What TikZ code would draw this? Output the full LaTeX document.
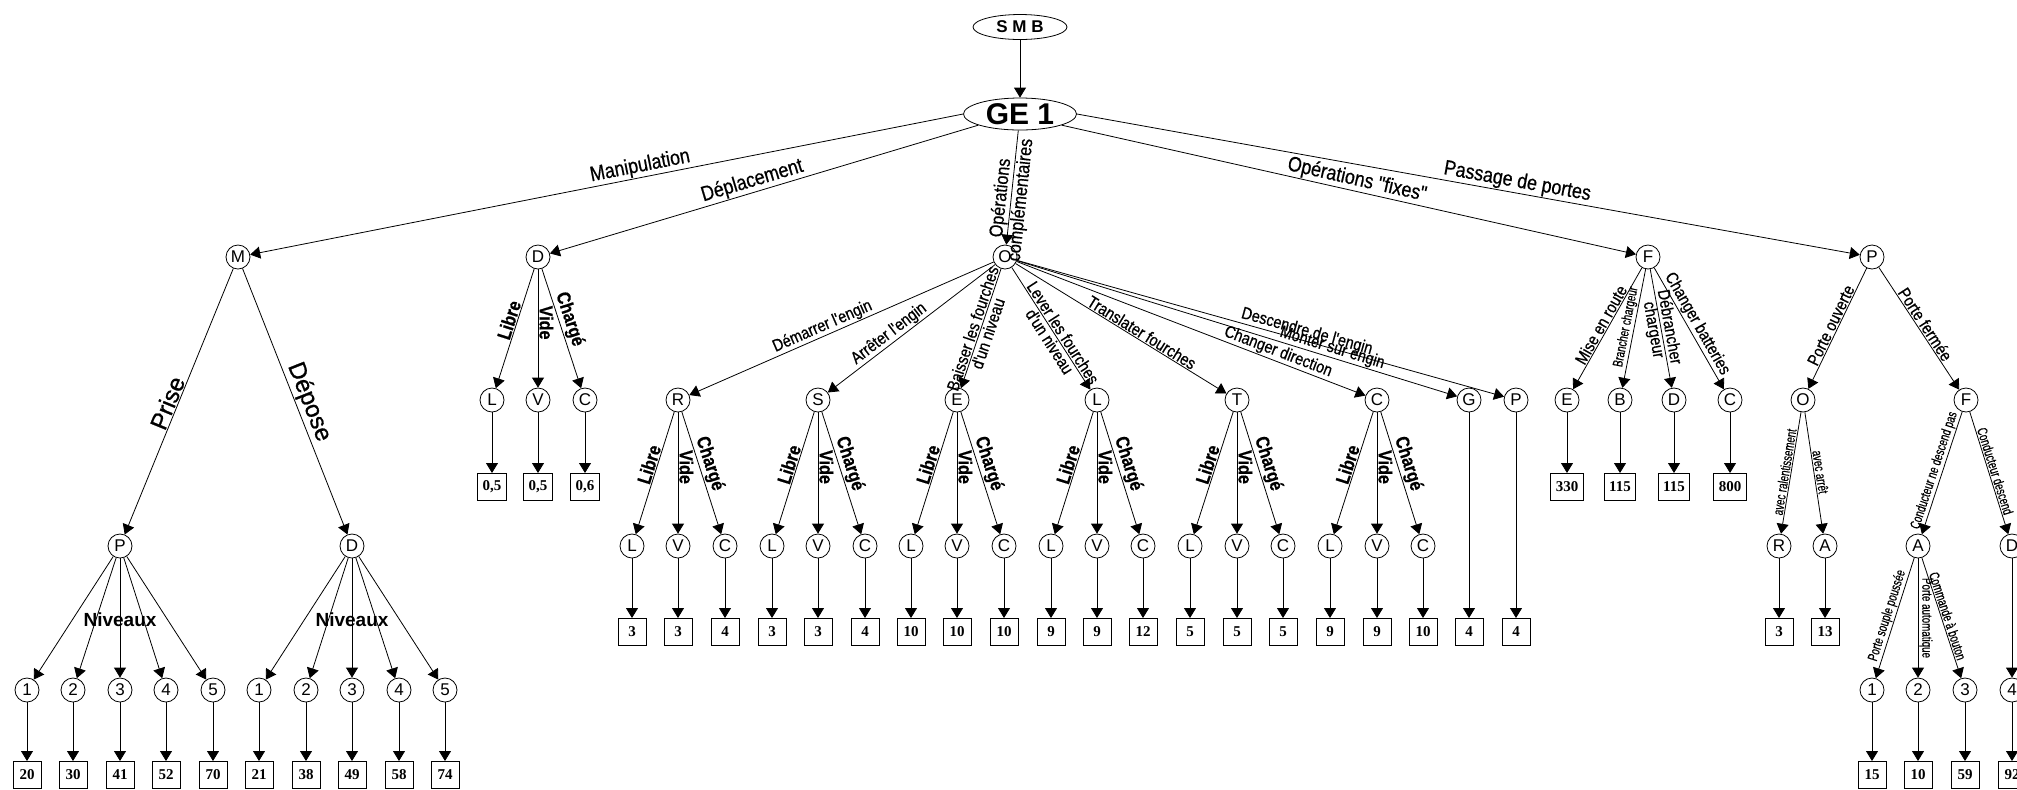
\documentclass[tikz,border=0pt]{standalone}
\usepackage{fontspec}
\setmainfont{Liberation Sans}
\newfontfamily\etroite[FakeStretch=0.85,FakeBold=0.6]{Liberation Sans}
\newfontfamily\serree[FakeStretch=0.7,FakeBold=0.5]{Liberation Sans}
\newfontfamily\plein[FakeBold=1]{Liberation Sans}
\newfontfamily\chiffres{Liberation Serif}
\usetikzlibrary{arrows.meta,shapes.geometric}

\begin{document}
\begin{tikzpicture}[x=0.5pt,y=-0.5pt,
    >={Triangle[length=5pt,width=6pt]},
    lettre/.style={circle,draw,line width=0.4pt,minimum size=12pt,inner sep=0pt,font=\fontsize{8.5}{9}\selectfont},
    valeur/.style={rectangle,draw,line width=0.5pt,minimum width=14pt,minimum height=13.5pt,inner sep=2.5pt,font=\chiffres\bfseries\fontsize{7.5}{8}\selectfont},
    branche/.style={->,line width=0.4pt},
    etiq/.style={sloped,above,inner sep=0.5pt},
    grand/.style={etiq,font=\etroite\fontsize{10.5}{10}\selectfont},
    moyen/.style={etiq,font=\etroite\fontsize{8.5}{8}\selectfont},
    lvc/.style={etiq,font=\etroite\bfseries\fontsize{9.5}{10}\selectfont},
    petit/.style={etiq,font=\serree\fontsize{7}{7}\selectfont},
    deuxlignes/.style={anchor=center,align=center,inner sep=0pt}]
    \useasboundingbox (0,0) rectangle (2017,789);
    % racine
    \node[ellipse,draw,line width=0.4pt,minimum width=47pt,minimum height=12.5pt,inner sep=0pt,font=\bfseries\fontsize{8.5}{9}\selectfont] (smb) at (1020,27) {S M B};
    \node[ellipse,draw,line width=0.4pt,minimum width=56.5pt,minimum height=16pt,inner sep=0pt,font=\bfseries\fontsize{15}{15}\selectfont] (ge) at (1020,114) {GE 1};
    \draw[branche] (smb) -- (ge);
    \node[lettre] (m) at (238,257) {M};
    \node[lettre] (d) at (538,257) {D};
    \node[lettre] (o) at (1005,257) {O};
    \node[lettre] (f) at (1648,257) {F};
    \node[lettre] (p) at (1872,257) {P};
    \draw[branche] (ge.west) -- node[grand,pos=0.45] {Manipulation} (m);
    \draw[branche] (ge.195) -- node[grand,pos=0.52] {Déplacement} (d);
    \draw[branche] (ge) -- node[grand,deuxlignes,pos=0.6,font=\etroite\fontsize{9.5}{10}\selectfont] {Opérations\\complémentaires} (o);
    \draw[branche] (ge.-15) -- node[grand,pos=0.51] {Opérations "fixes"} (f);
    \draw[branche] (ge.east) -- node[grand,pos=0.56] {Passage de portes} (p);
    % manipulation
    \node[lettre] (mp) at (120,546) {P};
    \node[lettre] (md) at (352,546) {D};
    \draw[branche] (m) -- node[etiq,pos=0.52,font=\plein\fontsize{12}{12}\selectfont] {Prise} (mp);
    \draw[branche] (m) -- node[etiq,pos=0.52,font=\plein\fontsize{12}{12}\selectfont] {Dépose} (md);
    \node[lettre] (mp1) at (27,690) {1};
    \node[lettre] (mp2) at (73,690) {2};
    \node[lettre] (mp3) at (120,690) {3};
    \node[lettre] (mp4) at (166,690) {4};
    \node[lettre] (mp5) at (213,690) {5};
    \node[lettre] (md1) at (259,690) {1};
    \node[lettre] (md2) at (306,690) {2};
    \node[lettre] (md3) at (352,690) {3};
    \node[lettre] (md4) at (399,690) {4};
    \node[lettre] (md5) at (445,690) {5};
    \draw[branche] (mp) -- (mp1);
    \draw[branche] (mp) -- (mp2);
    \draw[branche] (mp) -- (mp3);
    \draw[branche] (mp) -- (mp4);
    \draw[branche] (mp) -- (mp5);
    \draw[branche] (md) -- (md1);
    \draw[branche] (md) -- (md2);
    \draw[branche] (md) -- (md3);
    \draw[branche] (md) -- (md4);
    \draw[branche] (md) -- (md5);
    \node[font=\bfseries\fontsize{9.5}{10}\selectfont,inner sep=0pt] (niv1) at (120,620) {Niveaux};
    \node[font=\bfseries\fontsize{9.5}{10}\selectfont,inner sep=0pt] (niv2) at (352,620) {Niveaux};
    \node[valeur] (mp1b) at (27,775) {20};
    \node[valeur] (mp2b) at (73,775) {30};
    \node[valeur] (mp3b) at (120,775) {41};
    \node[valeur] (mp4b) at (166,775) {52};
    \node[valeur] (mp5b) at (213,775) {70};
    \node[valeur] (md1b) at (259,775) {21};
    \node[valeur] (md2b) at (306,775) {38};
    \node[valeur] (md3b) at (352,775) {49};
    \node[valeur] (md4b) at (399,775) {58};
    \node[valeur] (md5b) at (445,775) {74};
    \draw[branche] (mp1) -- (mp1b);
    \draw[branche] (mp2) -- (mp2b);
    \draw[branche] (mp3) -- (mp3b);
    \draw[branche] (mp4) -- (mp4b);
    \draw[branche] (mp5) -- (mp5b);
    \draw[branche] (md1) -- (md1b);
    \draw[branche] (md2) -- (md2b);
    \draw[branche] (md3) -- (md3b);
    \draw[branche] (md4) -- (md4b);
    \draw[branche] (md5) -- (md5b);
    % deplacement
    \node[lettre] (dl) at (492,400) {L};
    \node[lettre] (dv) at (538,400) {V};
    \node[lettre] (dc) at (585,400) {C};
    \draw[branche] (d) -- node[lvc,pos=0.45] {Libre} (dl);
    \draw[branche] (d) -- node[lvc,pos=0.45] {Vide} (dv);
    \draw[branche] (d) -- node[lvc,pos=0.45] {Chargé} (dc);
    \node[valeur] (dlb) at (492,487) {0,5};
    \node[valeur] (dvb) at (538,487) {0,5};
    \node[valeur] (dcb) at (585,487) {0,6};
    \draw[branche] (dl) -- (dlb);
    \draw[branche] (dv) -- (dvb);
    \draw[branche] (dc) -- (dcb);
    % operations complementaires
    \node[lettre] (r) at (678,400) {R};
    \node[lettre] (s) at (818,400) {S};
    \node[lettre] (e) at (957,400) {E};
    \node[lettre] (l) at (1097,400) {L};
    \node[lettre] (t) at (1237,400) {T};
    \node[lettre] (c) at (1377,400) {C};
    \node[lettre] (g) at (1469,400) {G};
    \node[lettre] (pp) at (1516,400) {P};
    \draw[branche] (o) -- node[moyen,pos=0.55] {Démarrer l'engin} (r);
    \draw[branche] (o) -- node[moyen,pos=0.6] {Arrêter l'engin} (s);
    \draw[branche] (o) -- node[moyen,deuxlignes,pos=0.52] {Baisser les fourches\\d'un niveau} (e);
    \draw[branche] (o) -- node[moyen,deuxlignes,pos=0.57] {Lever les fourches\\d'un niveau} (l);
    \draw[branche] (o) -- node[moyen,pos=0.58] {Translater fourches} (t);
    \draw[branche] (o) -- node[moyen,pos=0.74] {Changer direction} (c);
    \draw[branche] (o) -- node[moyen,pos=0.71] {Monter sur engin} (g);
    \draw[branche] (o) -- node[moyen,pos=0.59] {Descendre de l'engin} (pp);
    \node[lettre] (rl) at (632,546) {L};
    \node[lettre] (rv) at (678,546) {V};
    \node[lettre] (rc) at (725,546) {C};
    \node[lettre] (sl) at (772,546) {L};
    \node[lettre] (sv) at (818,546) {V};
    \node[lettre] (sc) at (865,546) {C};
    \node[lettre] (el) at (911,546) {L};
    \node[lettre] (ev) at (957,546) {V};
    \node[lettre] (ec) at (1004,546) {C};
    \node[lettre] (ll) at (1051,546) {L};
    \node[lettre] (lv) at (1097,546) {V};
    \node[lettre] (lc) at (1143,546) {C};
    \node[lettre] (tl) at (1190,546) {L};
    \node[lettre] (tv) at (1237,546) {V};
    \node[lettre] (tc) at (1283,546) {C};
    \node[lettre] (cl) at (1330,546) {L};
    \node[lettre] (cv) at (1377,546) {V};
    \node[lettre] (cc) at (1423,546) {C};
    \draw[branche] (r) -- node[lvc,pos=0.45] {Libre} (rl);
    \draw[branche] (r) -- node[lvc,pos=0.45] {Vide} (rv);
    \draw[branche] (r) -- node[lvc,pos=0.45] {Chargé} (rc);
    \draw[branche] (s) -- node[lvc,pos=0.45] {Libre} (sl);
    \draw[branche] (s) -- node[lvc,pos=0.45] {Vide} (sv);
    \draw[branche] (s) -- node[lvc,pos=0.45] {Chargé} (sc);
    \draw[branche] (e) -- node[lvc,pos=0.45] {Libre} (el);
    \draw[branche] (e) -- node[lvc,pos=0.45] {Vide} (ev);
    \draw[branche] (e) -- node[lvc,pos=0.45] {Chargé} (ec);
    \draw[branche] (l) -- node[lvc,pos=0.45] {Libre} (ll);
    \draw[branche] (l) -- node[lvc,pos=0.45] {Vide} (lv);
    \draw[branche] (l) -- node[lvc,pos=0.45] {Chargé} (lc);
    \draw[branche] (t) -- node[lvc,pos=0.45] {Libre} (tl);
    \draw[branche] (t) -- node[lvc,pos=0.45] {Vide} (tv);
    \draw[branche] (t) -- node[lvc,pos=0.45] {Chargé} (tc);
    \draw[branche] (c) -- node[lvc,pos=0.45] {Libre} (cl);
    \draw[branche] (c) -- node[lvc,pos=0.45] {Vide} (cv);
    \draw[branche] (c) -- node[lvc,pos=0.45] {Chargé} (cc);
    \node[valeur] (rlb) at (632,632) {3};
    \node[valeur] (rvb) at (678,632) {3};
    \node[valeur] (rcb) at (725,632) {4};
    \node[valeur] (slb) at (772,632) {3};
    \node[valeur] (svb) at (818,632) {3};
    \node[valeur] (scb) at (865,632) {4};
    \node[valeur] (elb) at (911,632) {10};
    \node[valeur] (evb) at (957,632) {10};
    \node[valeur] (ecb) at (1004,632) {10};
    \node[valeur] (llb) at (1051,632) {9};
    \node[valeur] (lvb) at (1097,632) {9};
    \node[valeur] (lcb) at (1143,632) {12};
    \node[valeur] (tlb) at (1190,632) {5};
    \node[valeur] (tvb) at (1237,632) {5};
    \node[valeur] (tcb) at (1283,632) {5};
    \node[valeur] (clb) at (1330,632) {9};
    \node[valeur] (cvb) at (1377,632) {9};
    \node[valeur] (ccb) at (1423,632) {10};
    \node[valeur] (gb) at (1469,632) {4};
    \node[valeur] (ppb) at (1516,632) {4};
    \draw[branche] (rl) -- (rlb);
    \draw[branche] (rv) -- (rvb);
    \draw[branche] (rc) -- (rcb);
    \draw[branche] (sl) -- (slb);
    \draw[branche] (sv) -- (svb);
    \draw[branche] (sc) -- (scb);
    \draw[branche] (el) -- (elb);
    \draw[branche] (ev) -- (evb);
    \draw[branche] (ec) -- (ecb);
    \draw[branche] (ll) -- (llb);
    \draw[branche] (lv) -- (lvb);
    \draw[branche] (lc) -- (lcb);
    \draw[branche] (tl) -- (tlb);
    \draw[branche] (tv) -- (tvb);
    \draw[branche] (tc) -- (tcb);
    \draw[branche] (cl) -- (clb);
    \draw[branche] (cv) -- (cvb);
    \draw[branche] (cc) -- (ccb);
    \draw[branche] (g) -- (gb);
    \draw[branche] (pp) -- (ppb);
    % operations fixes
    \node[lettre] (fe) at (1567,400) {E};
    \node[lettre] (fb) at (1620,400) {B};
    \node[lettre] (fd) at (1674,400) {D};
    \node[lettre] (fc) at (1730,400) {C};
    \draw[branche] (f) -- node[moyen,pos=0.5] {Mise en route} (fe);
    \draw[branche] (f) -- node[petit,pos=0.5] {Brancher chargeur} (fb);
    \draw[branche] (f) -- node[moyen,deuxlignes,pos=0.5] {Débrancher\\chargeur} (fd);
    \draw[branche] (f) -- node[moyen,pos=0.5] {Changer batteries} (fc);
    \node[valeur] (feb) at (1567,487) {330};
    \node[valeur] (fbb) at (1620,487) {115};
    \node[valeur] (fdb) at (1674,487) {115};
    \node[valeur] (fcb) at (1730,487) {800};
    \draw[branche] (fe) -- (feb);
    \draw[branche] (fb) -- (fbb);
    \draw[branche] (fd) -- (fdb);
    \draw[branche] (fc) -- (fcb);
    % passage de portes
    \node[lettre] (po) at (1803,400) {O};
    \node[lettre] (pf) at (1966,400) {F};
    \draw[branche] (p) -- node[moyen,pos=0.5] {Porte ouverte} (po);
    \draw[branche] (p) -- node[moyen,pos=0.5] {Porte fermée} (pf);
    \node[lettre] (por) at (1779,546) {R};
    \node[lettre] (poa) at (1825,546) {A};
    \draw[branche] (po) -- node[petit,pos=0.5] {avec ralentissement} (por);
    \draw[branche] (po) -- node[petit,pos=0.5] {avec arrêt} (poa);
    \node[valeur] (porb) at (1779,632) {3};
    \node[valeur] (poab) at (1825,632) {13};
    \draw[branche] (por) -- (porb);
    \draw[branche] (poa) -- (poab);
    \node[lettre] (pfa) at (1918,546) {A};
    \node[lettre] (pfd) at (2012,546) {D};
    \draw[branche] (pf) -- node[petit,pos=0.5] {Conducteur ne descend pas} (pfa);
    \draw[branche] (pf) -- node[petit,pos=0.5] {Conducteur descend} (pfd);
    \node[lettre] (a1) at (1872,690) {1};
    \node[lettre] (a2) at (1918,690) {2};
    \node[lettre] (a3) at (1965,690) {3};
    \node[lettre] (d4) at (2012,690) {4};
    \draw[branche] (pfa) -- node[petit,pos=0.5] {Porte souple poussée} (a1);
    \draw[branche] (pfa) -- node[petit,pos=0.5] {Porte automatique} (a2);
    \draw[branche] (pfa) -- node[petit,pos=0.5] {Commande à bouton} (a3);
    \draw[branche] (pfd) -- (d4);
    \node[valeur] (a1b) at (1872,775) {15};
    \node[valeur] (a2b) at (1918,775) {10};
    \node[valeur] (a3b) at (1965,775) {59};
    \node[valeur] (d4b) at (2012,775) {92};
    \draw[branche] (a1) -- (a1b);
    \draw[branche] (a2) -- (a2b);
    \draw[branche] (a3) -- (a3b);
    \draw[branche] (d4) -- (d4b);
\end{tikzpicture}
\end{document}
